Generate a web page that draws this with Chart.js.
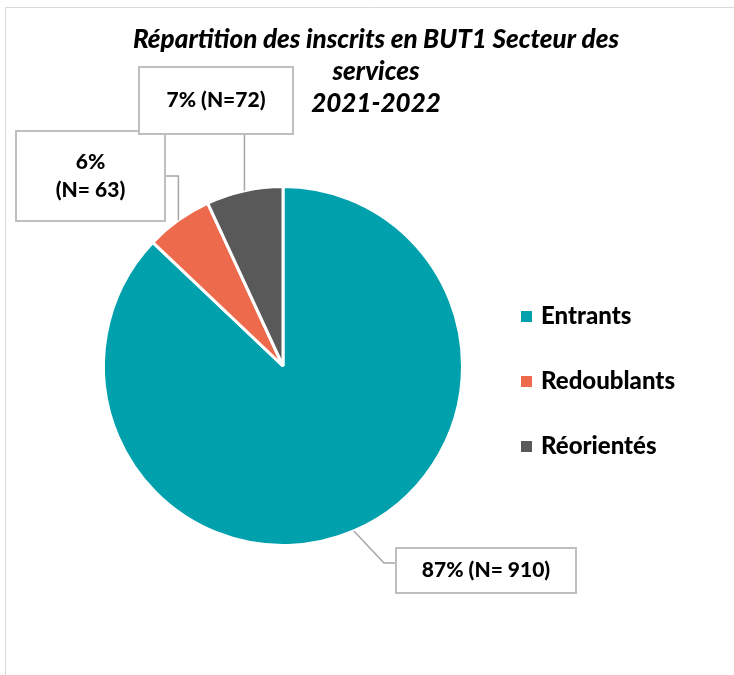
<!DOCTYPE html>
<html>
<head>
<meta charset="utf-8">
<script src="https://cdn.jsdelivr.net/npm/chart.js@4.4.1/dist/chart.umd.min.js"></script>
<style>
  html, body { margin: 0; padding: 0; background: #fff; }
  canvas { display: block; }
</style>
</head>
<body>
<canvas id="pie" width="734" height="675"></canvas>
<script>
// data
const categories = ['Entrants', 'Redoublants', 'Réorientés'];
const counts = [910, 63, 72];
const sliceColors = ['#00A1AD', '#EE6A4C', '#595959'];
const titleLines = ['Répartition des inscrits en BUT1 Secteur des', 'services', '2021-2022'];

const FONT = 'Lato, "Open Sans", sans-serif';

const total = counts.reduce((a, b) => a + b, 0);
const pct = counts.map(v => Math.round(v / total * 100));
// callout text, one entry per slice (same spacing as the original)
const calloutText = [
    [`${pct[0]}% (N= ${counts[0]})`],
    [`${pct[1]}%`, `(N= ${counts[1]})`],
    [`${pct[2]}% (N=${counts[2]})`]
];
// callout boxes: x, y, w, h  and elbow route for the leader line
const calloutBoxes = [
    { x: 396, y: 548, w: 180, h: 45, elbow: 'left' },
    { x: 16, y: 131, w: 149, h: 90, elbow: 'right' },
    { x: 139, y: 67, w: 154, h: 67, elbow: 'bottom' }
];

const decorations = {
    id: 'decorations',
    beforeDraw(chart) {
        const ctx = chart.ctx;
        ctx.save();
        ctx.fillStyle = '#fff';
        ctx.fillRect(0, 0, chart.width, chart.height);
        // outer frame of the chart area
        ctx.strokeStyle = '#D9D9D9';
        ctx.lineWidth = 1;
        ctx.beginPath();
        ctx.moveTo(5.5, chart.height);
        ctx.lineTo(5.5, 7.5);
        ctx.lineTo(chart.width, 7.5);
        ctx.stroke();

        // title
        ctx.fillStyle = '#000';
        ctx.font = `italic 900 26px ${FONT}`;
        ctx.textAlign = 'center';
        ctx.textBaseline = 'middle';
        titleLines.forEach((t, i) => ctx.fillText(t, 376, 40 + i * 32));
        ctx.restore();
    },
    afterDraw(chart) {
        const ctx = chart.ctx;
        const meta = chart.getDatasetMeta(0);
        ctx.save();

        // leader lines + callouts
        meta.data.forEach((arc, i) => {
            const box = calloutBoxes[i];
            const mid = (arc.startAngle + arc.endAngle) / 2;
            const px = arc.x + Math.cos(mid) * arc.outerRadius;
            const py = arc.y + Math.sin(mid) * arc.outerRadius;

            ctx.strokeStyle = '#A6A6A6';
            ctx.lineWidth = 1.5;
            ctx.beginPath();
            ctx.moveTo(px, py);
            if (box.elbow === 'left') {
                const ey = box.y + 15;
                ctx.lineTo(box.x - 12, ey);
                ctx.lineTo(box.x, ey);
            } else if (box.elbow === 'right') {
                const ey = box.y + 45;
                ctx.lineTo(px, ey);
                ctx.lineTo(box.x + box.w, ey);
            } else {
                ctx.lineTo(px, box.y + box.h);
            }
            ctx.stroke();

            ctx.fillStyle = '#fff';
            ctx.fillRect(box.x, box.y, box.w, box.h);
            ctx.strokeStyle = '#BFBFBF';
            ctx.lineWidth = 2;
            ctx.strokeRect(box.x, box.y, box.w, box.h);

            ctx.fillStyle = '#000';
            ctx.font = `900 21px ${FONT}`;
            ctx.textAlign = 'center';
            ctx.textBaseline = 'middle';
            const lines = calloutText[i];
            const lh = 28;
            const cy = box.y + box.h / 2 - (lines.length - 1) * lh / 2;
            lines.forEach((t, j) => ctx.fillText(t, box.x + box.w / 2, cy + j * lh));
        });

        // legend on the right
        ctx.font = `900 24px ${FONT}`;
        ctx.textAlign = 'left';
        ctx.textBaseline = 'middle';
        categories.forEach((c, i) => {
            const y = 316 + i * 65;
            ctx.fillStyle = sliceColors[i];
            ctx.fillRect(521, y - 5, 11, 11);
            ctx.fillStyle = '#000';
            ctx.fillText(c, 541, y);
        });
        ctx.restore();
    }
};

new Chart(document.getElementById('pie'), {
    type: 'pie',
    data: {
        labels: categories,
        datasets: [{
            data: counts,
            backgroundColor: sliceColors,
            borderColor: '#fff',
            borderWidth: 3
        }]
    },
    options: {
        responsive: false,
        animation: false,
        layout: {
            padding: { left: 102, right: 270, top: 185, bottom: 128 }
        },
        plugins: {
            legend: { display: false },
            tooltip: { enabled: false }
        }
    },
    plugins: [decorations]
});
</script>
</body>
</html>
